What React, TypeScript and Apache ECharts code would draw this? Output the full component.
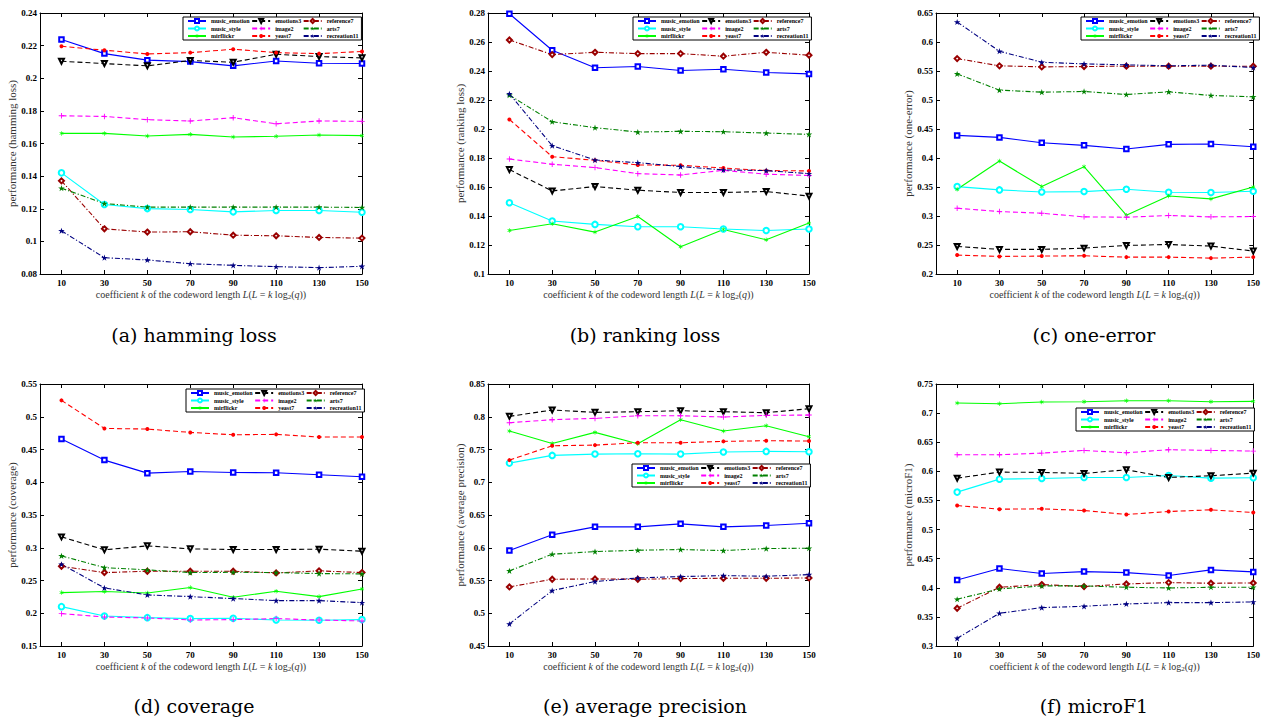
import React, { useEffect, useRef } from "react";
import * as echarts from "echarts";

const kValues = [10, 30, 50, 70, 90, 110, 130, 150];

const seriesNames = [
  "music_emotion",
  "music_style",
  "mirflickr",
  "emotions3",
  "image2",
  "yeast7",
  "reference7",
  "arts7",
  "recreation11",
];

// rows follow seriesNames order
const hammingLoss = [
  [0.2237, 0.2151, 0.2111, 0.2102, 0.2076, 0.2106, 0.2092, 0.209],
  [0.142, 0.1226, 0.1201, 0.1195, 0.1181, 0.1189, 0.1189, 0.1179],
  [0.1662, 0.1662, 0.1646, 0.1656, 0.164, 0.1644, 0.1652, 0.1648],
  [0.2104, 0.209, 0.2076, 0.2109, 0.2098, 0.2147, 0.2133, 0.2125],
  [0.177, 0.1766, 0.1746, 0.1738, 0.1758, 0.1721, 0.1738, 0.1736],
  [0.2196, 0.2172, 0.2149, 0.2157, 0.2178, 0.2157, 0.2151, 0.2164],
  [0.1371, 0.1077, 0.1057, 0.1059, 0.1038, 0.1034, 0.1024, 0.102],
  [0.1326, 0.1232, 0.121, 0.121, 0.121, 0.121, 0.121, 0.1208],
  [0.1065, 0.09, 0.0886, 0.0863, 0.0853, 0.0845, 0.0839, 0.0847],
];

const rankingLoss = [
  [0.2795, 0.2543, 0.2422, 0.2431, 0.2403, 0.2412, 0.239, 0.238],
  [0.1491, 0.1365, 0.1342, 0.1326, 0.1326, 0.131, 0.13, 0.131],
  [0.13, 0.1346, 0.1289, 0.1397, 0.1188, 0.1307, 0.1236, 0.1351],
  [0.172, 0.1573, 0.1603, 0.1578, 0.1562, 0.1562, 0.1569, 0.1537],
  [0.1793, 0.1757, 0.1734, 0.1692, 0.1683, 0.1715, 0.1688, 0.1679],
  [0.2066, 0.1809, 0.1784, 0.1752, 0.175, 0.1731, 0.1713, 0.1711],
  [0.2614, 0.2513, 0.2529, 0.252, 0.252, 0.2502, 0.2529, 0.2509],
  [0.2234, 0.205, 0.2009, 0.1979, 0.1984, 0.1981, 0.1972, 0.1963],
  [0.2243, 0.1885, 0.1786, 0.1768, 0.1741, 0.1718, 0.1713, 0.1692],
];

const oneError = [
  [0.439, 0.4355, 0.4264, 0.4218, 0.4155, 0.4235, 0.4241, 0.4195],
  [0.3507, 0.345, 0.3415, 0.3421, 0.3461, 0.3409, 0.3404, 0.3427],
  [0.3461, 0.3948, 0.3507, 0.3851, 0.3014, 0.3346, 0.3295, 0.3501],
  [0.2475, 0.2424, 0.2424, 0.2446, 0.2492, 0.2509, 0.2481, 0.2395],
  [0.3134, 0.3076, 0.3048, 0.2985, 0.2979, 0.3008, 0.2985, 0.2991],
  [0.2326, 0.2303, 0.2309, 0.2314, 0.2291, 0.2291, 0.2274, 0.2291],
  [0.5714, 0.5589, 0.5571, 0.5577, 0.5583, 0.5583, 0.5583, 0.5583],
  [0.5451, 0.517, 0.5135, 0.5147, 0.5095, 0.5141, 0.5078, 0.5055],
  [0.6345, 0.5841, 0.5651, 0.5623, 0.5606, 0.5589, 0.56, 0.556],
];

const coverage = [
  [0.4659, 0.4338, 0.4139, 0.4165, 0.415, 0.4145, 0.4114, 0.4083],
  [0.2101, 0.1959, 0.1933, 0.1918, 0.1923, 0.1897, 0.1892, 0.1903],
  [0.2315, 0.2331, 0.231, 0.2392, 0.2244, 0.2336, 0.2254, 0.2371],
  [0.3166, 0.2968, 0.3029, 0.2983, 0.2973, 0.2973, 0.2978, 0.2947],
  [0.1994, 0.1943, 0.1928, 0.1897, 0.1903, 0.1918, 0.1897, 0.1882],
  [0.525, 0.4822, 0.4812, 0.4761, 0.4725, 0.4731, 0.469, 0.469],
  [0.2718, 0.2621, 0.2641, 0.2641, 0.2641, 0.2616, 0.2647, 0.2621],
  [0.2876, 0.2697, 0.2662, 0.2621, 0.2626, 0.2621, 0.2606, 0.2601],
  [0.2748, 0.2387, 0.228, 0.2254, 0.2224, 0.2193, 0.2193, 0.2162],
];

const averagePrecision = [
  [0.5957, 0.6197, 0.6319, 0.6319, 0.6365, 0.6319, 0.6339, 0.6375],
  [0.7292, 0.741, 0.743, 0.7435, 0.743, 0.7461, 0.7471, 0.7466],
  [0.7782, 0.7593, 0.7761, 0.7588, 0.7955, 0.7782, 0.7863, 0.7695],
  [0.8006, 0.8103, 0.8067, 0.8077, 0.8092, 0.8077, 0.8062, 0.8123],
  [0.7909, 0.7955, 0.7975, 0.8016, 0.8016, 0.7996, 0.8021, 0.8026],
  [0.7338, 0.7557, 0.7567, 0.7603, 0.7603, 0.7624, 0.7634, 0.7629],
  [0.5402, 0.5519, 0.5524, 0.5519, 0.5529, 0.5534, 0.5534, 0.5539],
  [0.5647, 0.5901, 0.5942, 0.5962, 0.5973, 0.5957, 0.5988, 0.5993],
  [0.4836, 0.5346, 0.5484, 0.5539, 0.556, 0.5575, 0.5565, 0.559],
];

const microF1 = [
  [0.4135, 0.433, 0.4244, 0.4278, 0.4261, 0.421, 0.4307, 0.4273],
  [0.5643, 0.5866, 0.5878, 0.5895, 0.5895, 0.5929, 0.5883, 0.5889],
  [0.7173, 0.7162, 0.719, 0.7196, 0.7213, 0.7213, 0.7196, 0.7202],
  [0.5883, 0.5987, 0.5981, 0.5964, 0.6027, 0.5895, 0.5924, 0.5969],
  [0.6285, 0.6285, 0.6313, 0.6359, 0.6319, 0.6371, 0.6359, 0.6348],
  [0.5413, 0.535, 0.5356, 0.5327, 0.5259, 0.531, 0.5339, 0.5293],
  [0.3648, 0.4009, 0.4055, 0.402, 0.4066, 0.4089, 0.4078, 0.4083],
  [0.3803, 0.398, 0.4032, 0.4032, 0.4009, 0.3997, 0.4009, 0.4009],
  [0.3132, 0.3562, 0.3659, 0.3682, 0.3722, 0.3745, 0.3745, 0.3757],
];

const panelData = [hammingLoss, rankingLoss, oneError, coverage, averagePrecision, microF1];
const yTitles = [
  "performance (hamming loss)",
  "performance (ranking loss)",
  "performance (one-error)",
  "performance (coverage)",
  "performance (average precision)",
  "performance (microF1)",
];
const captions = [
  "(a) hamming loss",
  "(b) ranking loss",
  "(c) one-error",
  "(d) coverage",
  "(e) average precision",
  "(f) microF1",
];
const yMins = [0.08, 0.1, 0.2, 0.15, 0.45, 0.3];
const yMaxs = [0.24, 0.28, 0.65, 0.55, 0.85, 0.75];
const yIntervals = [0.02, 0.02, 0.05, 0.05, 0.05, 0.05];

// layout (pixels)
const gridRects = [
  { left: 40, top: 13, width: 322, height: 261 },
  { left: 488, top: 13, width: 321, height: 261 },
  { left: 936, top: 13, width: 319, height: 261 },
  { left: 40, top: 384, width: 322, height: 262 },
  { left: 488, top: 384, width: 321, height: 262 },
  { left: 936, top: 384, width: 319, height: 262 },
];
const legendPos = [
  { left: 183, top: 17 },
  { left: 633, top: 17 },
  { left: 1081, top: 17 },
  { left: 186, top: 389 },
  { left: 632, top: 464 },
  { left: 1076, top: 408 },
];
const captionPos = [
  { x: 194, y: 335 },
  { x: 645, y: 335 },
  { x: 1094, y: 335 },
  { x: 194, y: 706 },
  { x: 645, y: 706 },
  { x: 1094, y: 706 },
];

const STAR = "path://M50,2 L61,36 L97,36 L68,57 L79,92 L50,70 L21,92 L32,57 L3,36 L39,36 Z";
const PLUS = "path://M4.2,0H5.8V4.2H10V5.8H5.8V10H4.2V5.8H0V4.2H4.2Z";
const ASTER =
  "path://M4.3,0H5.7V3.6L8.8,1.8L9.5,3L6.4,5L9.5,7L8.8,8.2L5.7,6.4V10H4.3V6.4L1.2,8.2L0.5,7L3.6,5L0.5,3L1.2,1.8L4.3,3.6Z";

const seriesColors = ["#0000ff", "#00ffff", "#00ff00", "#000000", "#ff00ff", "#ff0000", "#990000", "#008000", "#000080"];
const DASH = [5, 3];
const DASHDOT = [5, 2, 1.2, 2];
const lineTypes: any[] = ["solid", "solid", "solid", DASH, DASH, DASH, DASHDOT, DASHDOT, DASHDOT];
const symbols = ["emptyRect", "emptyCircle", ASTER, "emptyTriangle", PLUS, "circle", "emptyDiamond", STAR, STAR];
const symbolSizes = [4.5, 5.5, 4.5, 5, 5.5, 4, 5, 6.5, 6.5];
const symbolRotates = [0, 0, 0, 180, 0, 0, 0, 0, 0];

const SERIF = "Liberation Serif";

export default function App() {
  const ref = useRef<HTMLDivElement>(null);

  useEffect(() => {
    document.body.style.margin = "0";
    if (!ref.current) return;
    const chart = echarts.init(ref.current, undefined, { renderer: "svg" });

    const xAxes: any[] = [];
    const yAxes: any[] = [];
    const series: any[] = [];
    const legends: any[] = [];
    const graphics: any[] = [];

    const axisLine = { show: true, onZero: false, lineStyle: { color: "#000", width: 1 } };
    const axisTick = { show: true, inside: true, length: 4, lineStyle: { color: "#000", width: 1 } };
    const tickLabel = { fontSize: 9, fontWeight: "bold", fontFamily: SERIF, color: "#000" };

    gridRects.forEach((g, i) => {
      xAxes.push({
        type: "value",
        gridIndex: i,
        min: 0,
        max: 150,
        position: "bottom",
        axisLine,
        axisTick: { ...axisTick, customValues: kValues },
        axisLabel: { ...tickLabel, margin: 4, customValues: kValues },
        splitLine: { show: false },
        name: "coefficient {i|k} of the codeword length {i|L}({i|L} = {i|k} log{s|2}({i|q}))",
        nameLocation: "middle",
        nameGap: 14,
        nameTextStyle: {
          fontFamily: SERIF,
          fontSize: 10,
          color: "#333",
          lineHeight: 12,
          rich: {
            i: { fontStyle: "italic", fontFamily: SERIF, fontSize: 10, color: "#333", lineHeight: 12 },
            s: { fontFamily: SERIF, fontSize: 7, color: "#333", lineHeight: 7, verticalAlign: "bottom" },
          },
        },
      });
      xAxes.push({
        type: "value",
        gridIndex: i,
        min: 0,
        max: 150,
        position: "top",
        axisLine,
        axisTick: { ...axisTick, customValues: kValues },
        axisLabel: { show: false, customValues: kValues },
        splitLine: { show: false },
      });
      yAxes.push({
        type: "value",
        gridIndex: i,
        min: yMins[i],
        max: yMaxs[i],
        interval: yIntervals[i],
        position: "left",
        axisLine,
        axisTick,
        axisLabel: { ...tickLabel, margin: 3 },
        splitLine: { show: false },
        name: yTitles[i],
        nameLocation: "middle",
        nameGap: 21,
        nameTextStyle: { fontFamily: SERIF, fontSize: 11, color: "#333" },
      });
      yAxes.push({
        type: "value",
        gridIndex: i,
        min: yMins[i],
        max: yMaxs[i],
        interval: yIntervals[i],
        position: "right",
        axisLine,
        axisTick,
        axisLabel: { show: false },
        splitLine: { show: false },
      });

      panelData[i].forEach((row, s) => {
        series.push({
          type: "line",
          name: seriesNames[s],
          xAxisIndex: 2 * i,
          yAxisIndex: 2 * i,
          data: row.map((v, j) => [kValues[j], v]),
          symbol: symbols[s],
          symbolSize: symbolSizes[s],
          symbolRotate: symbolRotates[s],
          symbolKeepAspect: true,
          showSymbol: true,
          color: seriesColors[s],
          itemStyle: { color: seriesColors[s], borderWidth: 1 },
          lineStyle: { color: seriesColors[s], width: 1.1, type: lineTypes[s] },
          emphasis: { disabled: true },
        });
      });

      legends.push({
        orient: "vertical",
        left: legendPos[i].left,
        top: legendPos[i].top,
        height: 23,
        itemWidth: 18,
        itemHeight: 5,
        itemGap: 1.5,
        padding: [1, 3, 1, 4],
        borderColor: "#000",
        borderWidth: 1,
        backgroundColor: "#fff",
        selectedMode: false,
        textStyle: { fontSize: 6, fontWeight: "bold", fontFamily: SERIF, color: "#000", lineHeight: 6 },
        data: seriesNames,
      });

      graphics.push({
        type: "text",
        x: captionPos[i].x,
        y: captionPos[i].y,
        style: {
          text: captions[i],
          fontSize: 19,
          fontFamily: "DejaVu Serif",
          fill: "#000",
          textAlign: "center",
          textVerticalAlign: "middle",
          align: "center",
          verticalAlign: "middle",
        },
      });
    });

    chart.setOption({
      animation: false,
      backgroundColor: "#fff",
      grid: gridRects.map((g) => ({ ...g, containLabel: false })),
      xAxis: xAxes,
      yAxis: yAxes,
      legend: legends,
      series,
      graphic: graphics,
    });

    return () => chart.dispose();
  }, []);

  return <div ref={ref} style={{ width: 1263, height: 717 }} />;
}
